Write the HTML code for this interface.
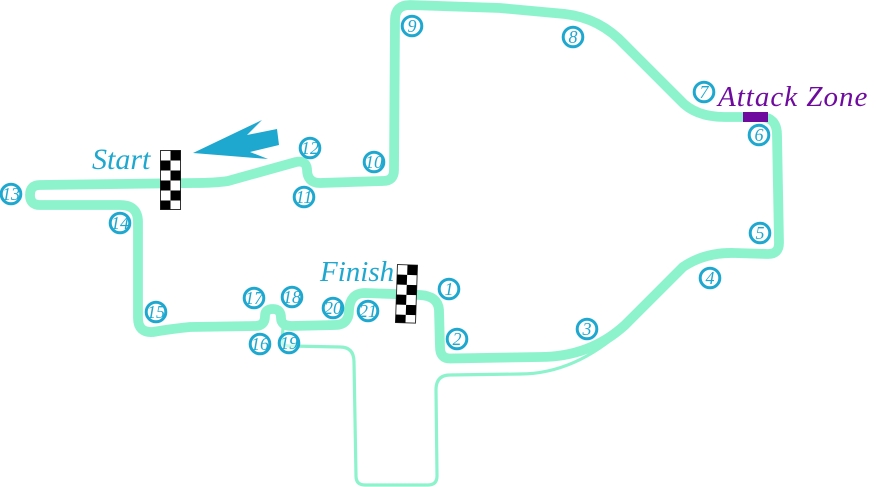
<!DOCTYPE html>
<html>
<head>
<meta charset="utf-8">
<style>
html,body{margin:0;padding:0;background:#fff;width:876px;height:487px;overflow:hidden}
svg{display:block}
.l{font-family:"Liberation Serif",serif;font-style:italic;fill:#1ea8cf}
.n{font-family:"Liberation Serif",serif;font-style:italic;font-size:18px;fill:#1ea8cf;text-anchor:middle}
circle{fill:#fff;fill-opacity:.5;stroke:#1ea8cf;stroke-width:3}
</style>
</head>
<body>
<svg width="876" height="487" viewBox="0 0 876 487" xmlns="http://www.w3.org/2000/svg">
<path d="M283 328 L282 341 Q282 346 290 346 L340 347 Q354 347 354 362 L356 476 Q356 485 365 485 L428 485 Q437 485 437 476 L436 390 Q436 375 450 375 L520 374 Q575 374 625 328" fill="none" stroke="#8cf3cd" stroke-width="3.200"/>
<path d="M40 185 L195 183 Q215 183 228 181 L296 162 Q306 160 307 169 Q307 183 320 183 L383 181 Q394 181 394 170 L395 20 Q395 5 410 5 L500 8 L565 14 Q600 18 625 45 L680 100 Q695 117 725 117 L760 117 Q777 117 777 135 L779 243 Q779 254 768 254 L735 253 Q705 252 683 267 L625 325 Q590 357 540 357 L450 358.500 Q440 358.500 440 347 L439 310 Q438 296 420 295 L365 293 Q350 293 349 310 Q349 325 335 325 L292 326 Q281 326 281 318 Q281 309 273 309 Q265 309 265 316 Q265 326 255 326 L190 327 Q170 329 153 332 Q138 333 138 318 L138 222 Q138 205 120 205 L40 205 Q30 205 30 195 Q30 185 40 185 Z" fill="none" stroke="#8cf3cd" stroke-width="9.800" stroke-linejoin="round"/>
<polygon points="193,153 262,120 247,135 277,129 279,145 250,152 268,159" fill="#1ea8cf"/>
<rect x="743" y="112" width="25" height="10" fill="#6f0a9f"/>

<g transform="translate(160.500 150.500)">
<rect width="20" height="59" fill="#fff" stroke="#333" stroke-width="1"/>
<rect x="10" y="0" width="10" height="10"/><rect x="0" y="10" width="10" height="10"/><rect x="10" y="20" width="10" height="10"/><rect x="0" y="30" width="10" height="10"/><rect x="10" y="40" width="10" height="10"/><rect x="0" y="50" width="10" height="9"/>
</g>
<g transform="translate(397.500 264.500) rotate(2)">
<rect width="20" height="58" fill="#fff" stroke="#333" stroke-width="1"/>
<rect x="10" y="0" width="10" height="10"/><rect x="0" y="10" width="10" height="10"/><rect x="10" y="20" width="10" height="10"/><rect x="0" y="30" width="10" height="10"/><rect x="10" y="40" width="10" height="10"/><rect x="0" y="50" width="10" height="8"/>
</g>

<text class="l" x="92" y="169" font-size="30">Start</text>
<text class="l" x="320" y="281" font-size="29">Finish</text>
<text x="718" y="106" font-family="'Liberation Serif',serif" font-style="italic" font-size="29" letter-spacing="1" fill="#6f0a9f">Attack Zone</text>

<circle cx="449" cy="289" r="9.800"/><text class="n" x="449" y="295">1</text>
<circle cx="457" cy="339" r="9.800"/><text class="n" x="457" y="345">2</text>
<circle cx="587" cy="329" r="9.800"/><text class="n" x="587" y="335">3</text>
<circle cx="710" cy="278" r="9.800"/><text class="n" x="710" y="284">4</text>
<circle cx="760" cy="233" r="9.800"/><text class="n" x="760" y="239">5</text>
<circle cx="759" cy="135" r="9.800"/><text class="n" x="759" y="141">6</text>
<circle cx="704" cy="92" r="9.800"/><text class="n" x="704" y="98">7</text>
<circle cx="573" cy="37" r="9.800"/><text class="n" x="573" y="43">8</text>
<circle cx="412" cy="26" r="9.800"/><text class="n" x="412" y="32">9</text>
<circle cx="374" cy="162" r="9.800"/><text class="n" x="374" y="168">10</text>
<circle cx="304" cy="197" r="9.800"/><text class="n" x="304" y="203">11</text>
<circle cx="310" cy="148" r="9.800"/><text class="n" x="310" y="154">12</text>
<circle cx="11" cy="194" r="9.800"/><text class="n" x="11" y="200">13</text>
<circle cx="120" cy="223" r="9.800"/><text class="n" x="120" y="229">14</text>
<circle cx="156" cy="312" r="9.800"/><text class="n" x="156" y="318">15</text>
<circle cx="260" cy="344" r="9.800"/><text class="n" x="260" y="350">16</text>
<circle cx="254" cy="298" r="9.800"/><text class="n" x="254" y="304">17</text>
<circle cx="292" cy="297" r="9.800"/><text class="n" x="292" y="303">18</text>
<circle cx="289" cy="343" r="9.800"/><text class="n" x="289" y="349">19</text>
<circle cx="333" cy="308" r="9.800"/><text class="n" x="333" y="314">20</text>
<circle cx="368" cy="311" r="9.800"/><text class="n" x="368" y="317">21</text>
</svg>
</body>
</html>
